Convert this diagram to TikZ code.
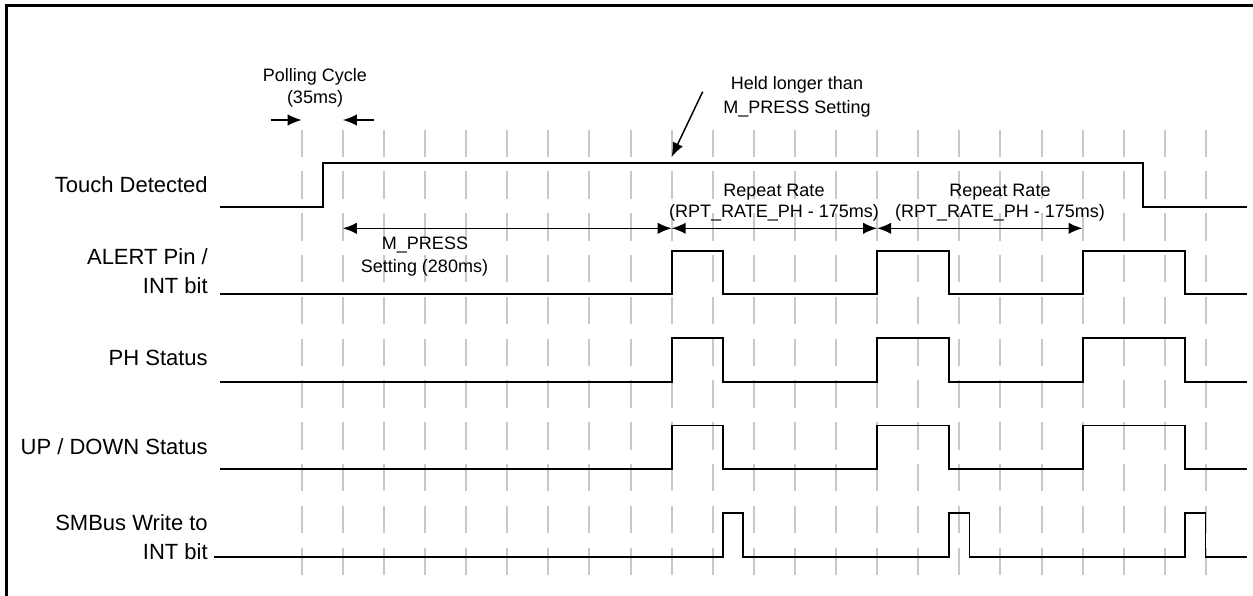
\documentclass[tikz,border=0pt]{standalone}
\usepackage{fontspec}
\setmainfont{Liberation Sans}
\usetikzlibrary{arrows.meta}
\definecolor{gridgray}{RGB}{200,200,200}
\tikzset{wave/.style={line width=1.4pt},
    tick/.style={color=gridgray,line width=1.5pt,dash pattern=on 20.6pt off 10.75pt},
    dim/.style={line width=1.1pt,{Latex[length=10.5pt,width=8.5pt]}-{Latex[length=10.5pt,width=8.5pt]}},
    pointer/.style={line width=1.1pt,-{Latex[length=10.5pt,width=8.5pt]}},
    siglabel/.style={anchor=base east,inner sep=0.75pt,font=\fontsize{16.5}{19}\selectfont},
    note/.style={anchor=base,inner sep=0.75pt,font=\fontsize{13.5}{16}\selectfont}}

\begin{document}
\begin{tikzpicture}[x=0.75pt,y=0.75pt,yscale=-1,xscale=1]
\useasboundingbox (0,0) rectangle (1253,596);

%Frame
\draw [line width=2.25pt]  (6.5,596) -- (6.5,5.5) -- (1253,5.5) ;

%Polling cycle ticks
\draw [tick]  (301.7,129.5) -- (301.7,577) ;
\draw [tick]  (342.8,129.5) -- (342.8,577) ;
\draw [tick]  (383.9,129.5) -- (383.9,577) ;
\draw [tick]  (425.0,129.5) -- (425.0,577) ;
\draw [tick]  (466.1,129.5) -- (466.1,577) ;
\draw [tick]  (507.2,129.5) -- (507.2,577) ;
\draw [tick]  (548.3,129.5) -- (548.3,577) ;
\draw [tick]  (589.4,129.5) -- (589.4,577) ;
\draw [tick]  (630.5,129.5) -- (630.5,577) ;
\draw [tick]  (671.6,129.5) -- (671.6,577) ;
\draw [tick]  (712.7,129.5) -- (712.7,577) ;
\draw [tick]  (753.8,129.5) -- (753.8,577) ;
\draw [tick]  (794.9,129.5) -- (794.9,577) ;
\draw [tick]  (836.0,129.5) -- (836.0,577) ;
\draw [tick]  (877.1,129.5) -- (877.1,577) ;
\draw [tick]  (918.2,129.5) -- (918.2,577) ;
\draw [tick]  (959.3,129.5) -- (959.3,577) ;
\draw [tick]  (1000.4,129.5) -- (1000.4,577) ;
\draw [tick]  (1041.5,129.5) -- (1041.5,577) ;
\draw [tick]  (1082.6,129.5) -- (1082.6,577) ;
\draw [tick]  (1123.7,129.5) -- (1123.7,577) ;
\draw [tick]  (1164.8,129.5) -- (1164.8,577) ;
\draw [tick]  (1205.9,129.5) -- (1205.9,577) ;

%Touch Detected
\draw [wave]  (220,206.7) -- (322.7,206.7) -- (322.7,162.7) -- (1143.3,162.7) -- (1143.3,206.7) -- (1246.7,206.7) ;
%ALERT Pin / INT bit
\draw [wave]  (220,294) -- (671.7,294) -- (671.7,250.7) -- (722.7,250.7) -- (722.7,294) -- (877,294) -- (877,250.7) -- (949,250.7) -- (949,294) -- (1082.6,294) -- (1082.6,250.7) -- (1185,250.7) -- (1185,294) -- (1246.7,294) ;
%PH Status
\draw [wave]  (220,381.7) -- (671.7,381.7) -- (671.7,337.7) -- (722.7,337.7) -- (722.7,381.7) -- (877,381.7) -- (877,337.7) -- (949,337.7) -- (949,381.7) -- (1082.6,381.7) -- (1082.6,337.7) -- (1185,337.7) -- (1185,381.7) -- (1246.7,381.7) ;
%UP / DOWN Status
\draw [wave]  (220,469.3) -- (671.7,469.3) -- (671.7,425.5) -- (722.7,425.5) -- (722.7,469.3) -- (877,469.3) -- (877,425.5) -- (949,425.5) -- (949,469.3) -- (1082.6,469.3) -- (1082.6,425.5) -- (1185,425.5) -- (1185,469.3) -- (1246.7,469.3) ;
%SMBus Write to INT bit
\draw [wave]  (214,557) -- (722.7,557) -- (722.7,513.3) -- (743,513.3) -- (743,557) -- (949,557) -- (949,513.3) -- (969.5,513.3) -- (969.5,557) -- (1185,557) -- (1185,513.3) -- (1205.5,513.3) -- (1205.5,557) -- (1246.7,557) ;

%Polling cycle arrows
\draw [pointer]  (270.7,120) -- (301.7,120) ;
\draw [pointer]  (374,120) -- (342.8,120) ;
%Held arrow
\draw [pointer]  (702.7,91.7) -- (671.7,156.7) ;
%M_PRESS and repeat rate spans
\draw [dim]  (342.8,228.3) -- (671.7,228.3) ;
\draw [dim]  (671.7,228.3) -- (877.1,228.3) ;
\draw [dim]  (877.1,228.3) -- (1082.6,228.3) ;

% Text Node
\draw (209,192.5) node (touch) [siglabel] {Touch Detected};
% Text Node
\draw (209,264.5) node (alert) [siglabel] {ALERT Pin /};
% Text Node
\draw (209,293) node (alertint) [siglabel] {INT bit};
% Text Node
\draw (209,365) node (ph) [siglabel] {PH Status};
% Text Node
\draw (209,454) node (updown) [siglabel] {UP / DOWN Status};
% Text Node
\draw (209,530) node (smbus) [siglabel] {SMBus Write to};
% Text Node
\draw (209,559) node (smbusint) [siglabel] {INT bit};
% Text Node
\draw (315,81) node (poll) [note] {Polling Cycle};
% Text Node
\draw (315,103.5) node (pollms) [note] {(35ms)};
% Text Node
\draw (797,89.3) node (held) [note] {Held longer than};
% Text Node
\draw (797,113) node (heldset) [note] {M\_PRESS Setting};
% Text Node
\draw (425,249.3) node (mpress) [note] {M\_PRESS};
% Text Node
\draw (424.5,272.5) node (mpressms) [note] {Setting (280ms)};
% Text Node
\draw (774,196.7) node (rptone) [note] {Repeat Rate};
% Text Node
\draw (774,217) node (rptonems) [note] {(RPT\_RATE\_PH - 175ms)};
% Text Node
\draw (1000,196) node (rpttwo) [note] {Repeat Rate};
% Text Node
\draw (1000,217) node (rpttwoms) [note] {(RPT\_RATE\_PH - 175ms)};

\end{tikzpicture}
\end{document}
